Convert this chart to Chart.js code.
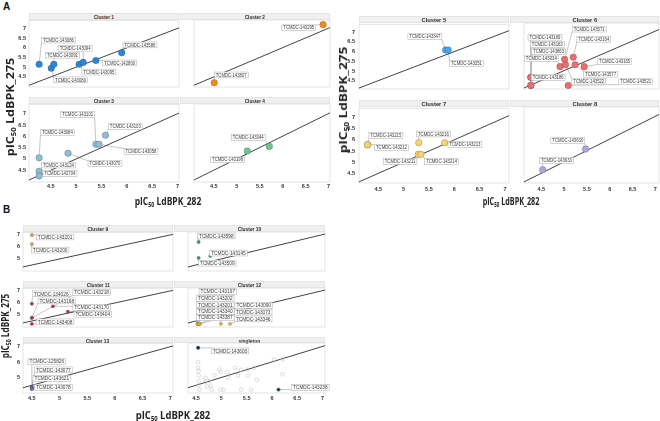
<!DOCTYPE html>
<html>
<head>
<meta charset="utf-8">
<script src="https://cdn.jsdelivr.net/npm/chart.js@4"></script>
<style>
  body { margin: 0; width: 660px; height: 421px; position: relative; overflow: hidden; background: #fff;
         font-family: "Liberation Sans", Arial, sans-serif; }
  canvas { position: absolute; }
  .strip { position: absolute; background: #f0f0f0; box-sizing: border-box; border: 0.5px solid #e4e4e4;
           text-align: center; color: #2a2a2a; font-weight: bold; font-size: 6px; overflow: visible; }
  .strip span { display: inline-block; white-space: nowrap; }
  .tag { position: absolute; font-weight: bold; font-size: 10px; color: #111; }
  .ttl { position: absolute; white-space: nowrap; font-family: "Open Sans", sans-serif; font-weight: bold;
         font-size: 10px; color: #222; line-height: 1; }
  .ttl sub { font-size: 0.62em; vertical-align: -0.3em; }
</style>
</head>
<body>
<div class="tag" style="left:3px;top:1px">A</div>
<div class="tag" style="left:3px;top:204px">B</div>

<script>
// tick labels
const ticksA = [4.5, 5, 5.5, 6, 6.5, 7];
const ticksBx = [4.5, 5, 5.5, 6, 6.5, 7];
const ticksBy = [5, 6, 7];

// x = pIC50 LdBPK_282, y = pIC50 LdBPK_275
const c1Ids = ['TCMDC-143086','TCMDC-143080','TCMDC-143091','TCMDC-143095','TCMDC-143094','TCMDC-142800','TCMDC-143586'];
const c1X = [4.27, 4.51, 4.56, 5.06, 5.14, 5.39, 5.90];
const c1Y = [5.15, 4.95, 5.15, 5.15, 5.25, 5.35, 5.75];

const c2Ids = ['TCMDC-143807','TCMDC-143295'];
const c2X = [4.51, 6.88];
const c2Y = [4.20, 7.18];

const c3Ids = ['TCMDC-143084','TCMDC-143124','TCMDC-142704','TCMDC-143070','TCMDC-143101','TCMDC-143058','TCMDC-143103'];
const c3X = [4.27, 4.27, 4.27, 4.84, 5.39, 5.45, 5.58];
const c3Y = [5.05, 4.45, 4.25, 5.25, 5.65, 5.65, 6.05];

const c4Ids = ['TCMDC-143196','TCMDC-143344'];
const c4X = [5.23, 5.71];
const c4Y = [5.35, 5.55];

const c5Ids = ['TCMDC-143347','TCMDC-143351'];
const c5X = [5.83, 5.88];
const c5Y = [6.08, 6.08];

const c6Ids = ['TCMDC-143169','TCMDC-143163','TCMDC-143863','TCMDC-143034','TCMDC-143186','TCMDC-143571',
               'TCMDC-143164','TCMDC-143165','TCMDC-143577','TCMDC-143522','TCMDC-143521'];
const c6X = [4.27, 4.27, 4.27, 4.91, 4.27, 5.01, 5.20, 5.44, 5.24, 5.03, 5.09];
const c6Y = [4.66, 4.25, 4.25, 5.20, 4.66, 5.57, 5.68, 5.20, 5.30, 5.30, 4.25];

const c7Ids = ['TCMDC-143215','TCMDC-143212','TCMDC-143216','TCMDC-143213','TCMDC-143211','TCMDC-143214'];
const c7X = [4.29, 4.29, 5.30, 5.81, 5.29, 5.34];
const c7Y = [5.78, 5.78, 5.87, 5.87, 5.35, 5.35];

const c8Ids = ['TCMDC-143630','TCMDC-143633'];
const c8X = [5.47, 4.53];
const c8Y = [5.56, 4.65];

const c9Ids = ['TCMDC-143201','TCMDC-143200'];
const c9X = [4.50, 4.50];
const c9Y = [7.00, 6.24];

const c10Ids = ['TCMDC-143598','TCMDC-143145','TCMDC-143509'];
const c10X = [4.55, 4.78, 4.55];
const c10Y = [6.39, 5.24, 5.08];

const c11Ids = ['TCMDC-134026','TCMDC-143218','TCMDC-143168','TCMDC-143170','TCMDC-143404','TCMDC-143408'];
const c11X = [4.50, 4.50, 4.50, 4.88, 5.15, 4.50];
const c11Y = [5.93, 4.76, 4.76, 5.72, 5.28, 4.26];

const c12Ids = ['TCMDC-143197','TCMDC-143202','TCMDC-143201','TCMDC-143340','TCMDC-143387',
                'TCMDC-143090','TCMDC-143073','TCMDC-143346'];
const c12X = [4.53, 4.53, 4.53, 4.57, 4.99, 4.57, 4.57, 5.17];
const c12Y = [4.26, 4.26, 4.26, 4.26, 4.26, 4.26, 4.26, 4.26];

const c13Ids = ['TCMDC-125826','TCMDC-143077','TCMDC-143621','TCMDC-143078'];
const c13X = [4.50, 4.50, 4.50, 4.50];
const c13Y = [4.40, 4.35, 4.30, 4.25];

const sIds = ['TCMDC-143603','TCMDC-143238'];
const sX = [4.54, 6.13];
const sY = [6.91, 4.22];

// unlabelled singletons
const sgX = [4.54, 4.54, 4.55, 4.55, 4.55, 4.55, 4.57, 4.69, 4.68, 4.72, 4.76, 4.79, 4.81, 4.86, 4.96, 4.99,
             4.98, 5.04, 5.12, 5.14, 5.27, 5.33, 5.39, 5.39, 5.52, 5.53, 5.65, 5.70, 5.59, 6.04, 6.21, 6.21];
const sgY = [6.00, 5.63, 5.41, 5.13, 4.76, 4.47, 4.22, 4.98, 4.69, 4.41, 4.76, 4.47, 4.22, 5.13, 5.50, 5.35,
             4.22, 4.22, 5.35, 4.98, 5.63, 5.13, 5.50, 4.22, 5.50, 5.13, 5.63, 4.85, 4.22, 6.17, 6.17, 5.20];

// label placement (data units), as ggrepel left them
const lab1 = [[4.65,6.40],[4.89,4.35],[4.73,5.62],[5.45,4.75],[4.98,5.98],[5.86,5.22],[6.26,6.15]];
const lab2 = [[4.88,4.60],[6.35,7.02]];
const lab3 = [[4.63,6.18],[4.65,4.73],[4.68,4.36],[5.57,4.79],[5.03,6.97],[6.28,5.33],[5.97,6.43]];
const lab4 = [[4.80,4.96],[5.25,5.94]];
const lab5 = [[5.42,6.77],[6.24,5.39]];
const lab6 = [[4.58,6.69],[4.63,6.33],[4.66,5.96],[4.50,5.60],[4.65,4.66],[5.55,7.10],
              [5.65,6.59],[6.11,5.46],[5.80,4.82],[5.54,4.47],[6.57,4.44]];
const lab7 = [[4.65,6.19],[4.76,5.65],[5.59,6.26],[6.21,5.79],[4.93,5.03],[5.75,5.03]];
const lab8 = [[5.08,5.93],[4.83,5.06]];
const lab9 = [[4.92,6.83],[4.83,5.74]];
const lab10 = [[4.90,6.89],[5.14,5.48],[4.92,4.65]];
const lab11 = [[4.85,6.76],[5.58,6.87],[4.95,6.17],[5.58,5.61],[5.60,5.06],[4.92,4.43]];
const lab12 = [[4.93,6.94],[4.88,6.37],[4.88,5.83],[4.88,5.28],[4.88,4.76],[5.64,5.78],[5.63,5.24],[5.63,4.67]];
const lab13 = [[4.77,6.04],[4.89,5.50],[4.86,4.95],[4.89,4.36]];
const labS = [[5.17,6.71],[6.76,4.36]];

// layout of the three facet grids: cols [left, width], rows [stripTop, plotTop, plotH]
const groups = {
  A1: { cols: [[29,150],[180,150]], rows: [[13,20,77],[97,104,78]], xr: [4.07,7.03], yr: [3.98,7.42],
        xt: ticksA, yt: ticksA, xPad: 1, yPad: 3, r: 3.3, font: 5, fx: 0.85, strip: 0.79 },
  A2: { cols: [[359,150],[510,149]], rows: [[16,23,76],[100,107,76]], xr: [4.12,7.08], yr: [4.07,7.41],
        xt: ticksA, yt: ticksA, xPad: 3, yPad: 4, r: 3.3, font: 5, fx: 0.85, strip: 0.96 },
  B:  { cols: [[23,150],[174,151]], rows: [[225,232,49],[281,288,49],[337,343,50]], xr: [4.34,7.05], yr: [4.0,7.22],
        xt: ticksBx, yt: ticksBy, xPad: 2, yPad: 3, r: 1.7, font: 5, fx: 0.95, strip: 0.81 }
};

const panels = [
  { name: 'Cluster 1', g: 'A1', c: 0, r: 0, ids: c1Ids, x: c1X, y: c1Y, lab: lab1, col: '#2a86d8' },
  { name: 'Cluster 2', g: 'A1', c: 1, r: 0, ids: c2Ids, x: c2X, y: c2Y, lab: lab2, col: '#f08c1a' },
  { name: 'Cluster 3', g: 'A1', c: 0, r: 1, ids: c3Ids, x: c3X, y: c3Y, lab: lab3, col: '#8fbcd6' },
  { name: 'Cluster 4', g: 'A1', c: 1, r: 1, ids: c4Ids, x: c4X, y: c4Y, lab: lab4, col: '#72c48f' },
  { name: 'Cluster 5', g: 'A2', c: 0, r: 0, ids: c5Ids, x: c5X, y: c5Y, lab: lab5, col: '#4aa5ea' },
  { name: 'Cluster 6', g: 'A2', c: 1, r: 0, ids: c6Ids, x: c6X, y: c6Y, lab: lab6, col: '#e86f6f' },
  { name: 'Cluster 7', g: 'A2', c: 0, r: 1, ids: c7Ids, x: c7X, y: c7Y, lab: lab7, col: '#f2d56b' },
  { name: 'Cluster 8', g: 'A2', c: 1, r: 1, ids: c8Ids, x: c8X, y: c8Y, lab: lab8, col: '#aaa7de' },
  { name: 'Cluster 9', g: 'B', c: 0, r: 0, ids: c9Ids, x: c9X, y: c9Y, lab: lab9, col: '#c9a25c' },
  { name: 'Cluster 10', g: 'B', c: 1, r: 0, ids: c10Ids, x: c10X, y: c10Y, lab: lab10, col: '#3c9a6a' },
  { name: 'Cluster 11', g: 'B', c: 0, r: 1, ids: c11Ids, x: c11X, y: c11Y, lab: lab11, col: '#b23a48' },
  { name: 'Cluster 12', g: 'B', c: 1, r: 1, ids: c12Ids, x: c12X, y: c12Y, lab: lab12, col: '#e0b43e' },
  { name: 'Cluster 13', g: 'B', c: 0, r: 2, ids: c13Ids, x: c13X, y: c13Y, lab: lab13, col: '#6b6ea5' },
  { name: 'singleton', g: 'B', c: 1, r: 2, ids: sIds, x: sX, y: sY, lab: labS, col: ['#1e3050', '#1f4d2e'] }
];

const M = 6, LW = 14, BH = 10;

const frame = {
  id: 'frame',
  beforeDraw(chart) {
    const { ctx, chartArea: a } = chart;
    ctx.save();
    ctx.strokeStyle = '#dedede';
    ctx.lineWidth = 0.8;
    ctx.strokeRect(a.left, a.top, a.right - a.left, a.bottom - a.top);
    ctx.restore();
  }
};

function boxOf(ctx, it, xs, ys, o) {
  const cx = xs.getPixelForValue(it.lx), cy = ys.getPixelForValue(it.ly);
  const w = ctx.measureText(it.id).width * o.fx + 3, h = o.font + 0.8;
  return { cx, cy, w, h, l: cx - w / 2, r: cx + w / 2, t: cy - h / 2, b: cy + h / 2 };
}

const repel = {
  id: 'repel',
  beforeDatasetsDraw(chart, args, o) {
    const { ctx, scales: { x, y } } = chart;
    ctx.save();
    ctx.font = o.font + 'px "Liberation Sans"';
    ctx.strokeStyle = '#8c8c8c';
    ctx.lineWidth = 0.5;
    o.items.forEach(it => {
      const b = boxOf(ctx, it, x, y, o);
      const px = x.getPixelForValue(it.x), py = y.getPixelForValue(it.y);
      const ex = Math.max(b.l, Math.min(px, b.r)), ey = Math.max(b.t, Math.min(py, b.b));
      if (Math.hypot(ex - px, ey - py) < o.r + 1) return;
      ctx.beginPath(); ctx.moveTo(px, py); ctx.lineTo(ex, ey); ctx.stroke();
    });
    ctx.restore();
  },
  afterDatasetsDraw(chart, args, o) {
    const { ctx, scales: { x, y } } = chart;
    ctx.save();
    ctx.font = o.font + 'px "Liberation Sans"';
    o.items.forEach(it => {
      const b = boxOf(ctx, it, x, y, o);
      ctx.fillStyle = '#fff';
      ctx.fillRect(b.l, b.t, b.w, b.h);
      ctx.strokeStyle = '#a8a8a8';
      ctx.lineWidth = 0.5;
      ctx.strokeRect(b.l, b.t, b.w, b.h);
      ctx.save();
      ctx.translate(b.cx, b.cy + 0.3);
      ctx.scale(o.fx, 1);
      ctx.fillStyle = '#3a3a3a';
      ctx.textAlign = 'center';
      ctx.textBaseline = 'middle';
      ctx.fillText(it.id, 0, 0);
      ctx.restore();
    });
    ctx.restore();
  }
};

function tickOpts(pad) {
  return { padding: pad, color: '#333', autoSkip: false, maxRotation: 0,
           font: { size: 5.5, weight: 'bold', family: 'Liberation Sans' }, callback: v => String(v) };
}

panels.forEach(p => {
  const g = groups[p.g];
  const [cl, cw] = g.cols[p.c];
  const [st, pt, ph] = g.rows[p.r];
  const showY = p.c === 0, showX = p.r === g.rows.length - 1;

  // facet strip
  const s = document.createElement('div');
  s.className = 'strip';
  Object.assign(s.style, { left: cl + 'px', top: st + 'px', width: cw + 'px', height: (pt - st) + 'px',
                           lineHeight: (pt - st) + 'px' });
  s.innerHTML = '<span style="transform:scaleX(' + g.strip + ')">' + p.name + '</span>';
  document.body.appendChild(s);

  const cv = document.createElement('canvas');
  const lw = showY ? LW : 0, bh = showX ? BH : 0;
  const W = cw + lw + 2 * M, H = ph + bh + 2 * M;
  cv.width = W; cv.height = H;
  Object.assign(cv.style, { left: (cl - lw - M) + 'px', top: (pt - M) + 'px', width: W + 'px', height: H + 'px' });
  document.body.appendChild(cv);

  const pts = p.ids.map((id, i) => ({ x: p.x[i], y: p.y[i] }));
  const datasets = [];
  const single = Array.isArray(p.col);
  datasets.push({
    data: pts,
    backgroundColor: p.col,
    borderColor: single ? p.col : 'rgba(40,40,40,0.45)',
    borderWidth: g.r > 2 ? 0.5 : 0.4,
    pointRadius: g.r
  });
  if (single) {
    datasets.push({
      data: sgX.map((v, i) => ({ x: v, y: sgY[i] })),
      backgroundColor: 'rgba(255,255,255,0)',
      borderColor: '#c4c4c4',
      borderWidth: 0.6,
      pointRadius: 1.8
    });
  }
  // y = x reference line
  datasets.push({
    data: [{ x: g.xr[0], y: g.xr[0] }, { x: g.xr[1], y: g.xr[1] }],
    showLine: true, borderColor: '#2e2e2e', borderWidth: 0.9, pointRadius: 0
  });

  new Chart(cv, {
    type: 'scatter',
    data: { datasets },
    options: {
      responsive: false, animation: false, devicePixelRatio: 1,
      layout: { padding: M },
      plugins: {
        legend: { display: false }, tooltip: { enabled: false },
        repel: { items: p.ids.map((id, i) => ({ id, x: p.x[i], y: p.y[i], lx: p.lab[i][0], ly: p.lab[i][1] })),
                 font: g.font, fx: g.fx, r: g.r }
      },
      scales: {
        x: { type: 'linear', min: g.xr[0], max: g.xr[1], display: showX,
             grid: { display: false, drawTicks: false }, border: { display: false },
             afterBuildTicks: sc => { sc.ticks = g.xt.map(v => ({ value: v })); },
             afterFit: sc => { sc.height = BH; },
             ticks: tickOpts(g.xPad) },
        y: { type: 'linear', min: g.yr[0], max: g.yr[1], display: showY,
             grid: { display: false, drawTicks: false }, border: { display: false },
             afterBuildTicks: sc => { sc.ticks = g.yt.map(v => ({ value: v })); },
             afterFit: sc => { sc.width = LW; },
             ticks: tickOpts(g.yPad) }
      }
    },
    plugins: [frame, repel]
  });
});

// axis titles, stretched to the reference's lengths
const titles = [
  { t: 'x', cx: 168, cy: 202, len: 67 },
  { t: 'y', cx: 11, cy: 107, len: 99 },
  { t: 'x', cx: 511, cy: 202, len: 57 },
  { t: 'y', cx: 343.5, cy: 100, len: 107 },
  { t: 'x', cx: 172.5, cy: 416, len: 75 },
  { t: 'y', cx: 6, cy: 326, len: 65 }
];
titles.forEach(d => {
  const el = document.createElement('div');
  el.className = 'ttl';
  el.innerHTML = d.t === 'x' ? 'pIC<sub>50</sub> LdBPK_282' : 'pIC<sub>50</sub> LdBPK_275';
  el.style.left = d.cx + 'px';
  el.style.top = d.cy + 'px';
  document.body.appendChild(el);
  const k = d.len / el.offsetWidth;
  el.style.transform = 'translate(-50%,-50%)' + (d.t === 'y' ? ' rotate(-90deg)' : '') + ' scaleX(' + k + ')';
});
</script>
</body>
</html>
